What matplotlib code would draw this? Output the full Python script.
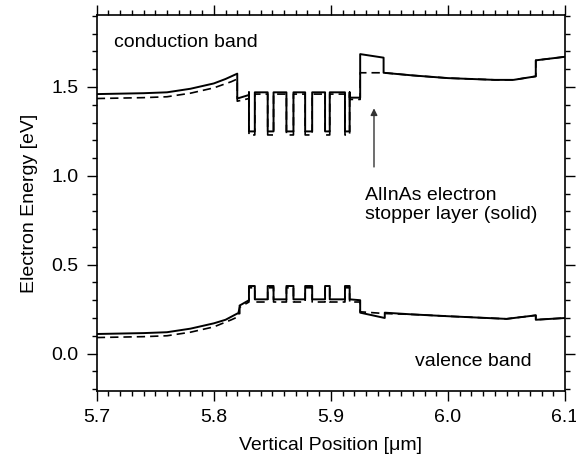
import matplotlib
matplotlib.use('Agg')
import matplotlib.pyplot as plt
from matplotlib.ticker import MultipleLocator, FormatStrFormatter

plt.rcParams['font.family'] = ['Liberation Sans', 'DejaVu Sans']
plt.rcParams['font.size'] = 14

# well (low CB / high VB) positions in the active region [um]
well_lo = [5.830, 5.846, 5.862, 5.878, 5.895, 5.912]
well_hi = [5.835, 5.851, 5.868, 5.884, 5.899, 5.916]

# conduction band, with stopper layer (solid)
cb_solid_x = [5.700, 5.740, 5.760, 5.780, 5.800, 5.810, 5.820, 5.820, 5.830]
cb_solid_y = [1.460, 1.465, 1.470, 1.490, 1.520, 1.545, 1.575, 1.435, 1.455]
cb_solid_tail_x = [5.916, 5.925, 5.925, 5.945, 5.945, 5.970, 6.000, 6.040, 6.056, 6.075, 6.075, 6.100]
cb_solid_tail_y = [1.440, 1.440, 1.685, 1.665, 1.580, 1.565, 1.550, 1.540, 1.540, 1.560, 1.650, 1.670]
cb_solid_base, cb_solid_well = 1.470, 1.250

# conduction band, without stopper layer (dashed)
cb_dash_x = [5.700, 5.740, 5.760, 5.780, 5.800, 5.815, 5.820, 5.820, 5.830]
cb_dash_y = [1.435, 1.440, 1.445, 1.465, 1.495, 1.530, 1.545, 1.420, 1.435]
cb_dash_tail_x = [5.916, 5.925, 5.925, 5.945, 5.970, 6.000, 6.040, 6.056, 6.075, 6.075, 6.100]
cb_dash_tail_y = [1.430, 1.430, 1.580, 1.580, 1.565, 1.550, 1.540, 1.540, 1.560, 1.650, 1.670]
cb_dash_base, cb_dash_well = 1.460, 1.230

# valence band, with stopper layer (solid)
vb_solid_x = [5.700, 5.740, 5.760, 5.780, 5.800, 5.810, 5.820, 5.822, 5.822, 5.830]
vb_solid_y = [0.110, 0.115, 0.120, 0.140, 0.170, 0.190, 0.225, 0.225, 0.270, 0.300]
vb_solid_tail_x = [5.916, 5.925, 5.925, 5.946, 5.946, 5.970, 6.000, 6.050, 6.075, 6.075, 6.100]
vb_solid_tail_y = [0.305, 0.300, 0.230, 0.200, 0.230, 0.220, 0.210, 0.195, 0.215, 0.190, 0.200]
vb_solid_base, vb_solid_well = 0.305, 0.380

# valence band, without stopper layer (dashed)
vb_dash_x = [5.700, 5.740, 5.760, 5.780, 5.800, 5.815, 5.820, 5.822, 5.830]
vb_dash_y = [0.090, 0.095, 0.100, 0.120, 0.150, 0.190, 0.205, 0.260, 0.290]
vb_dash_tail_x = [5.916, 5.925, 5.925, 5.946, 5.970, 6.000, 6.050, 6.075, 6.075, 6.100]
vb_dash_tail_y = [0.290, 0.290, 0.235, 0.225, 0.220, 0.210, 0.195, 0.215, 0.190, 0.200]
vb_dash_base, vb_dash_well = 0.290, 0.370


def with_wells(head_x, head_y, tail_x, tail_y, base, well):
    # stitch the square-wave active region between head and tail
    xs, ys = list(head_x), list(head_y)
    for a, b in zip(well_lo, well_hi):
        xs += [a, a, b, b]
        ys += [base, well, well, base]
    xs += tail_x
    ys += tail_y
    return xs, ys


fig = plt.figure(figsize=(5.76, 4.62), dpi=100)
ax = fig.add_axes([0.168, 0.154, 0.813, 0.8135])

dash = (0, (5, 3))
x, y = with_wells(cb_dash_x, cb_dash_y, cb_dash_tail_x, cb_dash_tail_y, cb_dash_base, cb_dash_well)
ax.plot(x, y, color='black', lw=1.2, ls=dash)
x, y = with_wells(vb_dash_x, vb_dash_y, vb_dash_tail_x, vb_dash_tail_y, vb_dash_base, vb_dash_well)
ax.plot(x, y, color='black', lw=1.2, ls=dash)
x, y = with_wells(cb_solid_x, cb_solid_y, cb_solid_tail_x, cb_solid_tail_y, cb_solid_base, cb_solid_well)
ax.plot(x, y, color='black', lw=1.4)
x, y = with_wells(vb_solid_x, vb_solid_y, vb_solid_tail_x, vb_solid_tail_y, vb_solid_base, vb_solid_well)
ax.plot(x, y, color='black', lw=1.4)

ax.text(5.715, 1.75, 'conduction band', va='center', ha='left')
ax.text(5.972, -0.045, 'valence band', va='center', ha='left')
ax.text(5.929, 0.835, 'AlInAs electron\nstopper layer (solid)', va='center', ha='left',
        linespacing=1.15)
ax.annotate('', xy=(5.9368, 1.38), xytext=(5.9368, 1.05),
            arrowprops=dict(arrowstyle='-|>', color='#333333', lw=1.0,
                            mutation_scale=10, shrinkA=0, shrinkB=0))

ax.set_xlim(5.7, 6.1)
ax.set_ylim(-0.21, 1.905)
ax.xaxis.set_major_locator(MultipleLocator(0.1))
ax.xaxis.set_minor_locator(MultipleLocator(0.01))
ax.yaxis.set_major_locator(MultipleLocator(0.5))
ax.yaxis.set_minor_locator(MultipleLocator(0.1))
ax.xaxis.set_major_formatter(FormatStrFormatter('%.1f'))
ax.yaxis.set_major_formatter(FormatStrFormatter('%.1f'))
ax.tick_params(which='both', direction='out', top=True, right=True, width=1.0)
ax.tick_params(which='major', length=7, labelsize=14, pad=6)
ax.tick_params(which='minor', length=3.5)
for s in ax.spines.values():
    s.set_linewidth(1.2)

ax.set_xlabel('Vertical Position [\u03bcm]', fontsize=14, labelpad=8)
ax.set_ylabel('Electron Energy [eV]', fontsize=14, labelpad=10)

fig.savefig('out.png', dpi=100)
